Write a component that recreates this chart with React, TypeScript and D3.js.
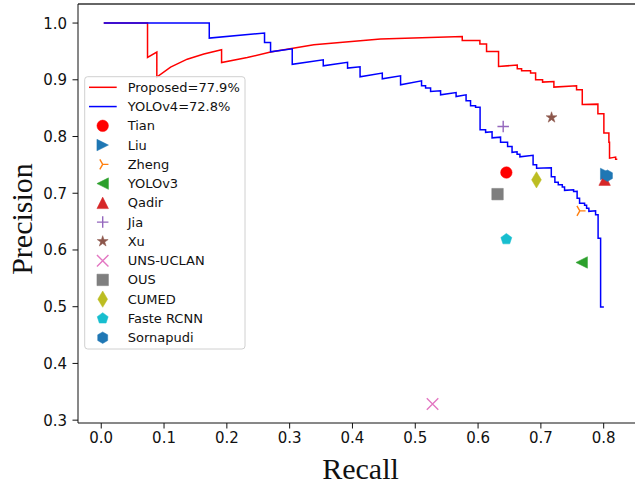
import * as d3 from 'd3';
import React from 'react';

// PR curves: [recall, precision]
const proposedCurve: [number, number][] = [
  [0.004, 1.0], [0.0737, 1.0], [0.0737, 0.9393], [0.0885, 0.9489], [0.0885, 0.9048],
  [0.1104, 0.9222], [0.1369, 0.9363], [0.1634, 0.9455], [0.1916, 0.9529], [0.1916, 0.9305],
  [0.2325, 0.9393], [0.2696, 0.9489], [0.3385, 0.9617], [0.4447, 0.9718], [0.5748, 0.9764],
  [0.5748, 0.9693], [0.6029, 0.9693], [0.6029, 0.963], [0.6135, 0.963], [0.6135, 0.9499],
  [0.6326, 0.9499], [0.6326, 0.9235], [0.6624, 0.9259], [0.6624, 0.9194], [0.6693, 0.9194],
  [0.6693, 0.9159], [0.6836, 0.9159], [0.6836, 0.9118], [0.6916, 0.9118], [0.6916, 0.9],
  [0.7027, 0.9], [0.7027, 0.8959], [0.7207, 0.897], [0.7207, 0.8871], [0.7568, 0.8894],
  [0.7568, 0.8824], [0.7659, 0.8824], [0.7659, 0.8564], [0.7908, 0.8571], [0.7908, 0.84],
  [0.8003, 0.84], [0.8003, 0.806], [0.8083, 0.806], [0.8083, 0.7901], [0.8093, 0.7901],
  [0.8093, 0.7619], [0.819, 0.7637], [0.819, 0.7601], [0.8217, 0.7601],
];

const yolov4Curve: [number, number][] = [
  [0.004, 1.0], [0.172, 1.0], [0.172, 0.9735], [0.26, 0.9824], [0.26, 0.9658],
  [0.2696, 0.9658], [0.2696, 0.9494], [0.3041, 0.9547], [0.3041, 0.9273], [0.3535, 0.9353],
  [0.3535, 0.9247], [0.3922, 0.9309], [0.3922, 0.9206], [0.4121, 0.9229], [0.4121, 0.9053],
  [0.4475, 0.9118], [0.4475, 0.9018], [0.4766, 0.9071], [0.4766, 0.8912], [0.51, 0.8982],
  [0.51, 0.8894], [0.5164, 0.8894], [0.5164, 0.8854], [0.5244, 0.8854], [0.5244, 0.8794],
  [0.5403, 0.8806], [0.5403, 0.8735], [0.565, 0.8776], [0.565, 0.8705], [0.5809, 0.8735],
  [0.5809, 0.863], [0.588, 0.863], [0.588, 0.8541], [0.596, 0.8541], [0.596, 0.8515],
  [0.6032, 0.8515], [0.6032, 0.8118], [0.612, 0.8118], [0.612, 0.8074], [0.6223, 0.8083],
  [0.6223, 0.7977], [0.6358, 0.7989], [0.6358, 0.7898], [0.647, 0.7898], [0.647, 0.7824],
  [0.6541, 0.7824], [0.6541, 0.7721], [0.6621, 0.773], [0.6621, 0.7686], [0.6666, 0.7686],
  [0.6666, 0.7642], [0.6876, 0.7668], [0.6876, 0.7501], [0.6932, 0.7501], [0.6932, 0.7439],
  [0.7166, 0.7448], [0.7166, 0.7289], [0.7223, 0.7289], [0.7223, 0.7196], [0.7277, 0.7196],
  [0.7277, 0.7148], [0.7341, 0.7148], [0.7341, 0.7108], [0.7377, 0.7108], [0.7377, 0.7051],
  [0.7521, 0.706], [0.7521, 0.703], [0.7577, 0.7034], [0.7577, 0.6914], [0.7616, 0.6914],
  [0.7616, 0.6825], [0.7696, 0.6825], [0.7696, 0.6787], [0.7728, 0.6787], [0.7728, 0.6734],
  [0.7764, 0.6734], [0.7764, 0.6681], [0.7871, 0.669], [0.7871, 0.6619], [0.7911, 0.6619],
  [0.7911, 0.6208], [0.7951, 0.6208], [0.7951, 0.4997], [0.8003, 0.4997],
];

const curveLabels = ['Proposed=77.9%', 'YOLOv4=72.8%'];

// other methods, single operating points
const methodNames = ['Tian', 'Liu', 'Zheng', 'YOLOv3', 'Qadir', 'Jia', 'Xu', 'UNS-UCLAN', 'OUS', 'CUMED', 'Faste RCNN', 'Sornapudi'];
const methodRecall = [0.645, 0.804, 0.762, 0.765, 0.8015, 0.640, 0.717, 0.5275, 0.631, 0.693, 0.645, 0.806];
const methodPrecision = [0.7365, 0.734, 0.669, 0.578, 0.724, 0.8177, 0.8335, 0.3286, 0.6984, 0.7236, 0.619, 0.731];

const xTicks = [0, 0.1, 0.2, 0.3, 0.4, 0.5, 0.6, 0.7, 0.8];
const yTicks = [0.3, 0.4, 0.5, 0.6, 0.7, 0.8, 0.9, 1.0];

// styles
const curveColors = ['red', 'blue'];
const methodColors = ['red', '#1f77b4', '#ff7f0e', '#2ca02c', '#d62728', '#9467bd', '#8c564b', '#e377c2', '#7f7f7f', '#bcbd22', '#17becf', '#1f77b4'];
const methodMarkers = ['o', '>', '4', '<', '^', '+', '*', 'x', 's', 'd', 'p', 'h'];

const MS = 11.5;

function poly(n: number, r: number, rot = 0) {
  const pts = d3.range(n).map((i) => {
    const a = -Math.PI / 2 + rot + (i * 2 * Math.PI) / n;
    return [r * Math.cos(a), r * Math.sin(a)];
  });
  return 'M' + pts.map((p) => p.join(',')).join('L') + 'Z';
}

function markerPath(m: string) {
  const r = MS / 2;
  switch (m) {
    case 'o': {
      const p = d3.path();
      p.arc(0, 0, r, 0, 2 * Math.PI);
      return p.toString();
    }
    case '>': return `M${-r},${-r}L${r},0L${-r},${r}Z`;
    case '<': return `M${r},${-r}L${-r},0L${r},${r}Z`;
    case '^': return `M0,${-r}L${-r},${r}L${r},${r}Z`;
    case 's': return `M${-r},${-r}H${r}V${r}H${-r}Z`;
    case 'd': {
      const h = r * Math.SQRT2;
      return `M0,${-h}L${0.6 * h},0L0,${h}L${-0.6 * h},0Z`;
    }
    case 'p': return poly(5, r);
    case 'h': return poly(6, r);
    case '*': {
      const pts = d3.range(10).map((i) => {
        const a = -Math.PI / 2 + (i * Math.PI) / 5;
        const rr = i % 2 === 0 ? r : r * 0.381966;
        return [rr * Math.cos(a), rr * Math.sin(a)];
      });
      return 'M' + pts.map((p) => p.join(',')).join('L') + 'Z';
    }
    case '+': return `M${-r},0H${r}M0,${-r}V${r}`;
    case 'x': return `M${-r},${-r}L${r},${r}M${-r},${r}L${r},${-r}`;
    case '4': return `M0,0L${r},0M0,0L${-r * 0.5},${-r * 0.866}M0,0L${-r * 0.5},${r * 0.866}`;
    default: return '';
  }
}

const lineMarkers = ['+', 'x', '4'];

const Marker = ({ m, color, x, y }: { m: string; color: string; x: number; y: number }) => {
  const isLine = lineMarkers.includes(m);
  return (
    <path
      d={markerPath(m)}
      transform={`translate(${x},${y})`}
      fill={isLine ? 'none' : color}
      stroke={color}
      strokeWidth={isLine ? 1.4 : 0.5}
    />
  );
};

const App = () => {
  const width = 635;
  const height = 485;
  const left = 78;
  const right = 643;
  const top = 4;
  const bottom = 423;

  const x = d3.scaleLinear().domain([-0.037, 0.8626]).range([left, right]);
  const y = d3.scaleLinear().domain([0.295, 1.0336]).range([bottom, top]);

  const line = d3
    .line<[number, number]>()
    .x((d) => x(d[0]))
    .y((d) => y(d[1]));

  const tickFont = 'DejaVu Sans, sans-serif';
  const serif = '"Liberation Serif", "Times New Roman", serif';

  // legend geometry
  const lgX = 84.7;
  const lgY = 76.7;
  const lgW = 160.3;
  const lgH = 272.3;
  const rowY0 = 87.3;
  const rowStep = 19.26;

  return (
    <svg width={width} height={height} style={{ position: 'absolute', left: 0, top: 0, background: 'white' }}>
      <defs>
        <clipPath id="plot">
          <rect x={left} y={top} width={right - left} height={bottom - top} />
        </clipPath>
      </defs>
      <rect width={width} height={height} fill="white" />

      <g clipPath="url(#plot)">
        <path d={line(proposedCurve) || ''} fill="none" stroke={curveColors[0]} strokeWidth={1.5} />
        <path d={line(yolov4Curve) || ''} fill="none" stroke={curveColors[1]} strokeWidth={1.5} />
        {methodNames.map((name, i) => (
          <Marker key={name} m={methodMarkers[i]} color={methodColors[i]} x={x(methodRecall[i])} y={y(methodPrecision[i])} />
        ))}
      </g>

      {/* spines */}
      <line x1={left} x2={right} y1={top} y2={top} stroke="#333" strokeWidth={1.5} />
      <line x1={left} x2={left} y1={top} y2={bottom} stroke="#111" strokeWidth={1} />
      <line x1={left} x2={right} y1={bottom} y2={bottom} stroke="#111" strokeWidth={1} />

      {/* x ticks */}
      {xTicks.map((t) => (
        <g key={t}>
          <line x1={x(t)} x2={x(t)} y1={bottom} y2={bottom + 5.5} stroke="#111" strokeWidth={1} />
          <text x={x(t)} y={bottom + 20} textAnchor="middle" fontFamily={tickFont} fontSize={15} fill="#111">
            {t.toFixed(1)}
          </text>
        </g>
      ))}
      {/* y ticks */}
      {yTicks.map((t) => (
        <g key={t}>
          <line x1={left - 5.5} x2={left} y1={y(t)} y2={y(t)} stroke="#111" strokeWidth={1} />
          <text x={left - 11} y={y(t) + 5.5} textAnchor="end" fontFamily={tickFont} fontSize={15} fill="#111">
            {t.toFixed(1)}
          </text>
        </g>
      ))}

      <text x={(left + right) / 2} y={479} textAnchor="middle" fontFamily={serif} fontSize={30} fill="#111">
        Recall
      </text>
      <text
        transform={`translate(32,219) rotate(-90)`}
        textAnchor="middle"
        fontFamily={serif}
        fontSize={30}
        fill="#111"
      >
        Precision
      </text>

      {/* legend */}
      <g>
        <rect x={lgX} y={lgY} width={lgW} height={lgH} rx={3} fill="white" fillOpacity={0.8} stroke="#d0d0d0" strokeWidth={1} />
        {curveLabels.map((lab, i) => (
          <g key={lab}>
            <line x1={89} x2={116.7} y1={rowY0 + i * rowStep} y2={rowY0 + i * rowStep} stroke={curveColors[i]} strokeWidth={1.5} />
            <text x={127.7} y={rowY0 + i * rowStep} dominantBaseline="central" fontFamily={tickFont} fontSize={13} fill="#111">
              {lab}
            </text>
          </g>
        ))}
        {methodNames.map((name, i) => {
          const ry = rowY0 + (i + 2) * rowStep;
          return (
            <g key={name}>
              <Marker m={methodMarkers[i]} color={methodColors[i]} x={102.7} y={ry} />
              <text x={127.7} y={ry} dominantBaseline="central" fontFamily={tickFont} fontSize={13} fill="#111">
                {name}
              </text>
            </g>
          );
        })}
      </g>
    </svg>
  );
};

export default App;
